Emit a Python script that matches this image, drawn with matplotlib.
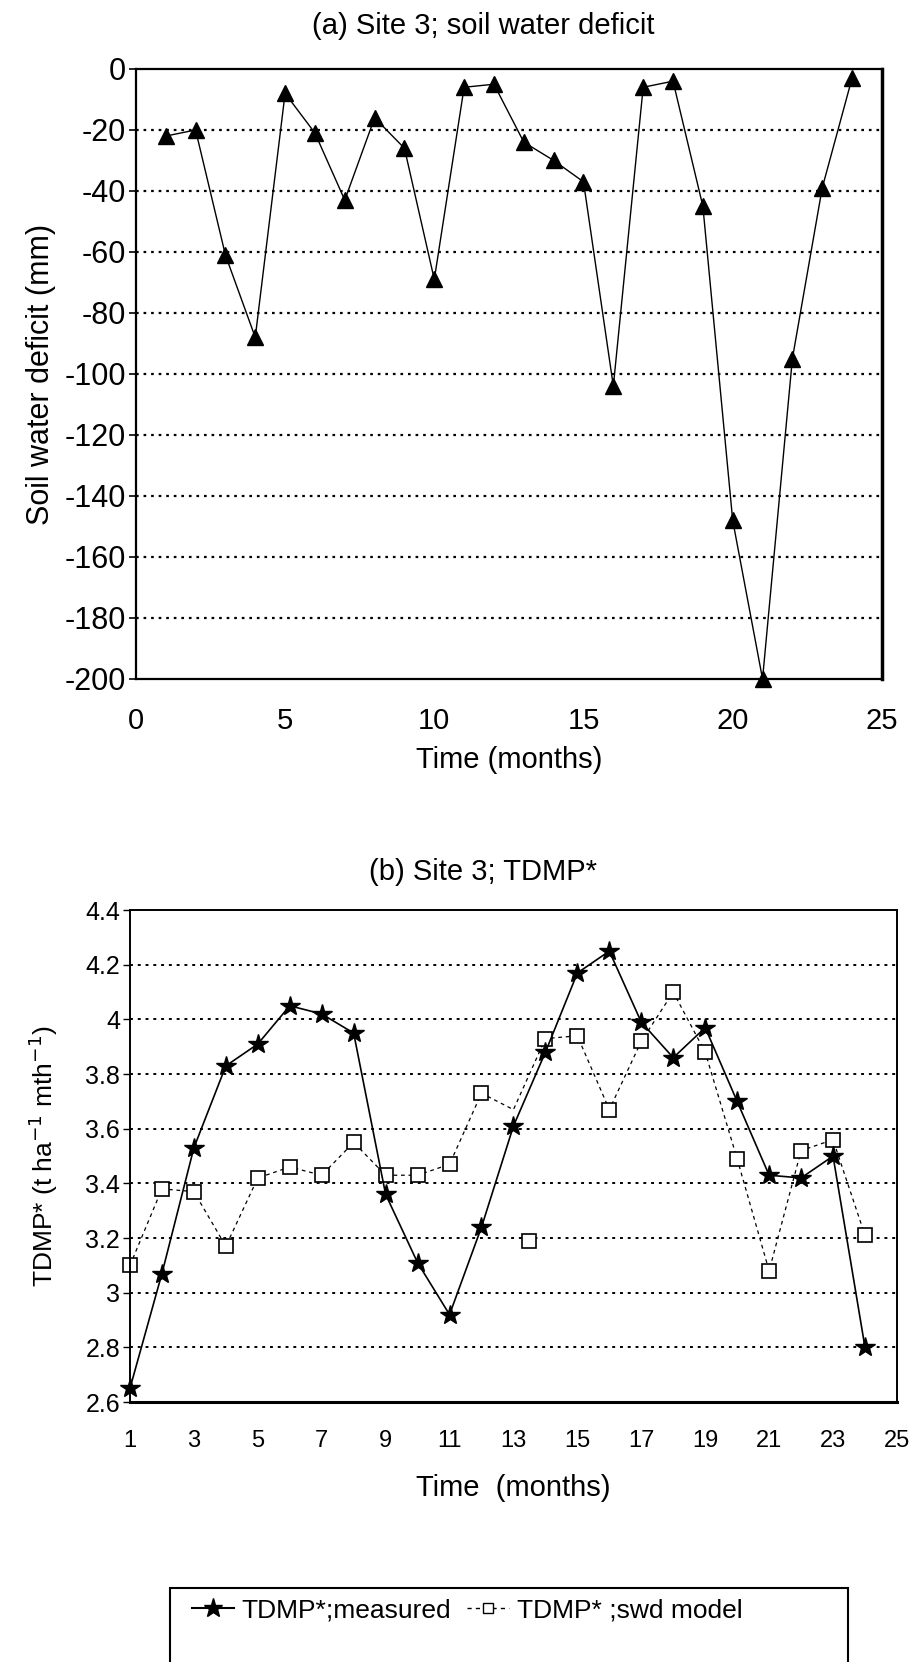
import matplotlib
matplotlib.use("Agg")
from matplotlib import pyplot as plt
from matplotlib.patches import Rectangle
from matplotlib.lines import Line2D

plt.rcParams['font.family'] = ['Liberation Sans', 'DejaVu Sans']
plt.rcParams['axes.unicode_minus'] = False

# --- (a) soil water deficit ---
months_a = list(range(1, 25))
swd = [-22, -20, -61, -88, -8, -21, -43, -16, -26, -69, -6, -5,
       -24, -30, -37, -104, -6, -4, -45, -148, -200, -95, -39, -3]
a_yticks = [0, -20, -40, -60, -80, -100, -120, -140, -160, -180, -200]
a_xticks = [0, 5, 10, 15, 20, 25]

# --- (b) TDMP* ---
months_b = list(range(1, 25))
tdmp_measured = [2.65, 3.07, 3.53, 3.83, 3.91, 4.05, 4.02, 3.95, 3.36, 3.11, 2.92, 3.24,
                 3.61, 3.88, 4.17, 4.25, 3.99, 3.86, 3.97, 3.70, 3.43, 3.42, 3.50, 2.80]
tdmp_model = [3.10, 3.38, 3.37, 3.17, 3.42, 3.46, 3.43, 3.55, 3.43, 3.43, 3.47, 3.73,
              3.67, 3.93, 3.94, 3.67, 3.92, 4.10, 3.88, 3.49, 3.08, 3.52, 3.56, 3.21]
# month 13 model marker appears displaced in the original
stray_month = [13.5]
stray_value = [3.19]
b_yticks = [4.4, 4.2, 4.0, 3.8, 3.6, 3.4, 3.2, 3.0, 2.8, 2.6]
b_yticklabels = ["4.4", "4.2", "4", "3.8", "3.6", "3.4", "3.2", "3", "2.8", "2.6"]
b_xticks = [1, 3, 5, 7, 9, 11, 13, 15, 17, 19, 21, 23, 25]

fig = plt.figure(figsize=(9.12, 16.62), dpi=100)

# panel a
ax = fig.add_axes([0.149, 0.5915, 0.818, 0.367])
ax.plot(months_a, swd, color="black", lw=1.0, marker="^", ms=12, mfc="black", mec="black",
        clip_on=False, zorder=3)
ax.set_xlim(0, 25)
ax.set_ylim(-200, 0)
ax.set_yticks(a_yticks)
ax.set_xticks(a_xticks)
for y in a_yticks[1:-1]:
    ax.axhline(y, color="black", lw=1.6, ls=(0, (1.2, 2.2)), zorder=0)
ax.tick_params(axis="y", direction="out", length=5, width=1.2, labelsize=22, pad=2)
ax.tick_params(axis="x", length=0, labelsize=21, pad=20)
for s in ax.spines.values():
    s.set_linewidth(1.6)
ax.spines["right"].set_linewidth(2.5)
ax.set_xlabel("Time (months)", fontsize=21, labelpad=8)
ax.set_ylabel("Soil water deficit (mm)", fontsize=22, labelpad=6)
ax.set_title("(a) Site 3; soil water deficit", fontsize=21, pad=25, x=0.465)

# panel b
bx = fig.add_axes([0.1425, 0.1564, 0.841, 0.296])
model_marks = [i for i in range(len(months_b)) if months_b[i] != 13]
bx.plot(months_b, tdmp_model, color="black", lw=0.9, ls=(0, (3, 3)),
        marker="s", ms=10, mfc="white", mec="black", mew=1.2, markevery=model_marks,
        clip_on=False, zorder=2)
bx.plot(stray_month, stray_value, ls="none", marker="s", ms=10, mfc="white", mec="black", mew=1.2)
bx.plot(months_b, tdmp_measured, color="black", lw=1.2, marker="*", ms=15,
        mfc="black", mec="black", clip_on=False, zorder=3)
bx.set_xlim(1, 25)
bx.set_ylim(2.6, 4.4)
bx.set_yticks(b_yticks)
bx.set_yticklabels(b_yticklabels)
bx.set_xticks(b_xticks)
for y in b_yticks[1:-1]:
    bx.axhline(y, color="black", lw=1.4, ls=(0, (1.5, 2.5)), zorder=0)
bx.tick_params(axis="y", direction="out", length=5, width=1.0, labelsize=18, pad=2)
bx.tick_params(axis="x", length=0, labelsize=17, pad=20)
for s in bx.spines.values():
    s.set_linewidth(1.4)
bx.spines["bottom"].set_linewidth(2.2)
bx.set_xlabel("Time  (months)", fontsize=21, labelpad=16)
bx.set_ylabel("TDMP* (t ha$^{-1}$ mth$^{-1}$)", fontsize=19, labelpad=18)
bx.set_title("(b) Site 3; TDMP*", fontsize=21, pad=22, x=0.46)

# legend box (open at the bottom of the page)
fig.patches.append(Rectangle((0.186, -0.01), 0.744, 0.0545, transform=fig.transFigure,
                             fill=False, edgecolor="black", lw=1.5))
handles = [
    Line2D([], [], color="black", lw=1.5, marker="*", ms=14, mfc="black"),
    Line2D([], [], color="black", lw=1.0, ls=(0, (3, 3)), marker="s", ms=7, mfc="white"),
]
fig.legend(handles, ["TDMP*;measured", "TDMP* ;swd model"], loc="upper left",
           bbox_to_anchor=(0.184, 0.0525), ncol=2, frameon=False, fontsize=19,
           handlelength=1.6, handletextpad=0.3, columnspacing=0.6)

fig.savefig("out.png", dpi=100, facecolor="white")
